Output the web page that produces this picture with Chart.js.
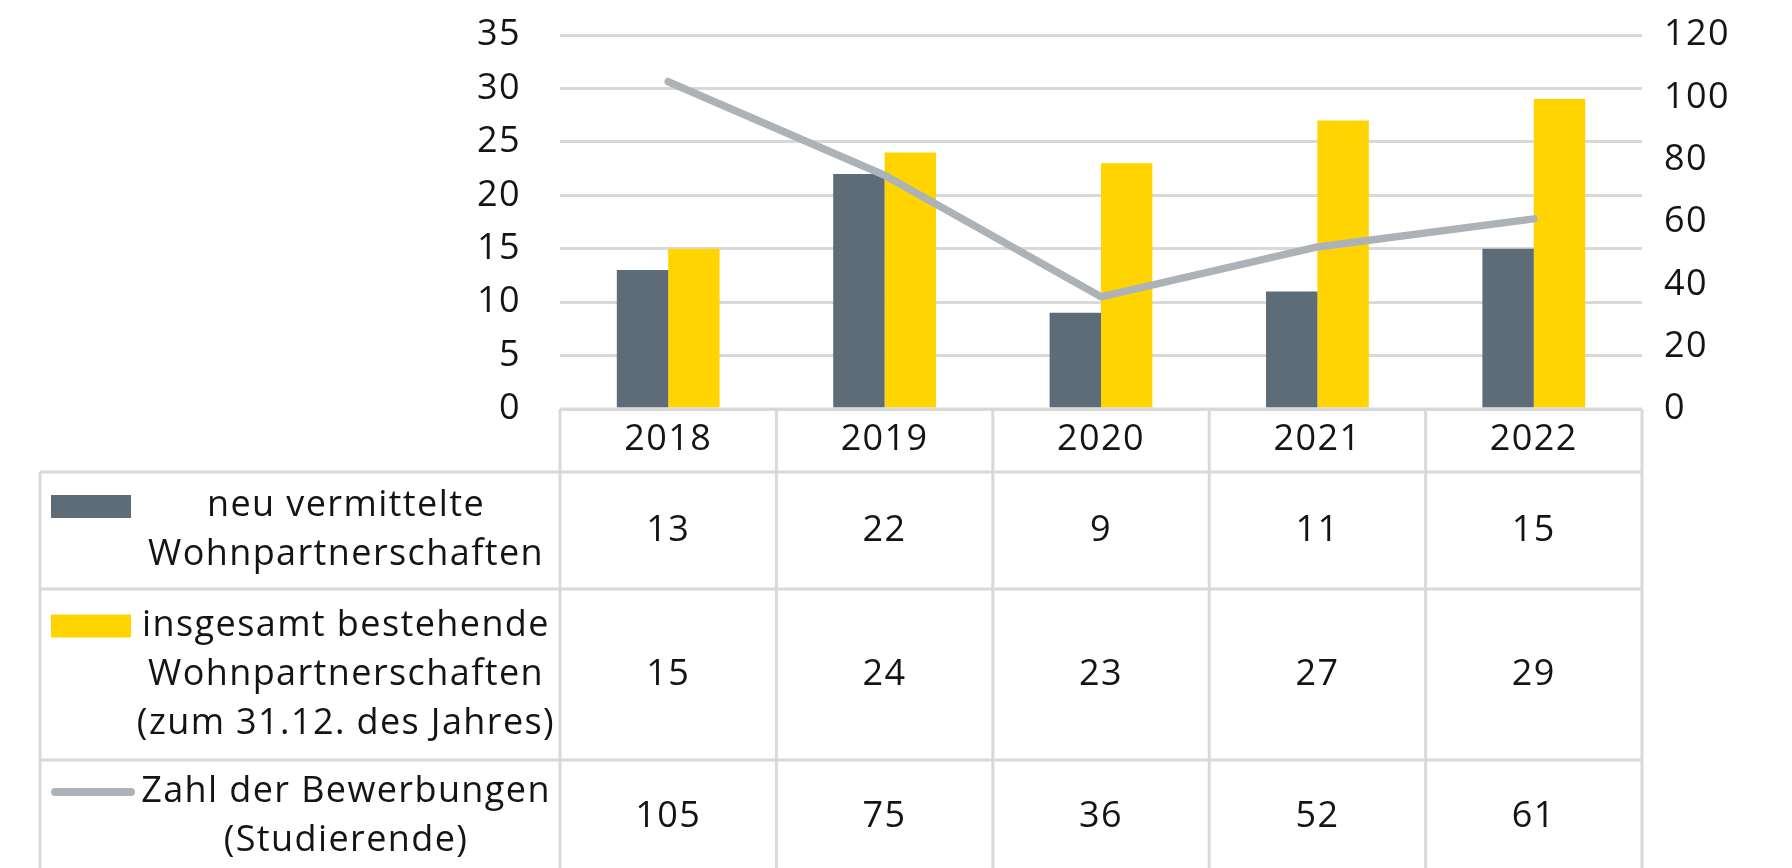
<!DOCTYPE html>
<html>
<head>
<meta charset="utf-8">
<script src="https://cdn.jsdelivr.net/npm/chart.js@4.4.1/dist/chart.umd.min.js"></script>
<style>
  html, body { margin: 0; padding: 0; background: #fff; }
  canvas { display: block; }
</style>
</head>
<body>
<canvas id="chart" width="1792" height="868"></canvas>
<script>
const years = ['2018', '2019', '2020', '2021', '2022'];
const neuVermittelt = [13, 22, 9, 11, 15];
const insgesamt = [15, 24, 23, 27, 29];
const bewerbungen = [105, 75, 36, 52, 61];
const seriesLabels = [
  ['neu vermittelte', 'Wohnpartnerschaften'],
  ['insgesamt bestehende', 'Wohnpartnerschaften', '(zum 31.12. des Jahres)'],
  ['Zahl der Bewerbungen', '(Studierende)']
];

const FONT = '"Open Sans", sans-serif';
const FONT_SIZE = 36;
const SPACING = '1.4px';
const TEXT = '#141414';
const GRID = '#d9d9d9';
const DARK = '#5d6c76';
const YELLOW = '#ffd400';
const LINE = '#abb3b8';

// letter spacing for all canvas text (tick labels too)
const spacingPlugin = {
  id: 'spacing',
  beforeDraw(chart) { chart.ctx.letterSpacing = SPACING; }
};

// draws the data table under the plot, columns follow the x scale
const tablePlugin = {
  id: 'dataTable',
  afterDraw(chart) {
    const ctx = chart.ctx;
    const area = chart.chartArea;
    const xs = chart.scales.x;
    const n = years.length;
    const colW = (area.right - area.left) / n;
    const tableLeft = 40;
    const yearBottom = area.bottom + 63;
    const rowH = [117, 171, 113];
    const rowTops = [yearBottom, yearBottom + rowH[0], yearBottom + rowH[0] + rowH[1]];
    const lineGap = 49;

    function line(x1, y1, x2, y2) {
      ctx.beginPath();
      ctx.moveTo(x1, y1);
      ctx.lineTo(x2, y2);
      ctx.stroke();
    }

    ctx.save();
    ctx.letterSpacing = SPACING;
    ctx.strokeStyle = GRID;
    ctx.lineWidth = 3;
    line(area.left, area.bottom, area.right, area.bottom);
    rowTops.forEach(t => line(tableLeft, t, area.right, t));
    for (let i = 0; i <= n; i++) {
      line(area.left + i * colW, area.bottom, area.left + i * colW, chart.height);
    }
    line(tableLeft, yearBottom, tableLeft, chart.height);

    ctx.fillStyle = TEXT;
    ctx.font = FONT_SIZE + 'px ' + FONT;
    ctx.textAlign = 'center';
    ctx.textBaseline = 'middle';
    years.forEach((y, i) => ctx.fillText(y, xs.getPixelForValue(i), area.bottom + 31));

    const rows = [neuVermittelt, insgesamt, bewerbungen];
    const labelCenter = 346;
    rows.forEach((vals, r) => {
      const mid = rowTops[r] + rowH[r] / 2;
      vals.forEach((v, i) => ctx.fillText(String(v), xs.getPixelForValue(i), mid));
      const lines = seriesLabels[r];
      const first = mid - (lines.length - 1) * lineGap / 2;
      lines.forEach((t, k) => ctx.fillText(t, labelCenter, first + k * lineGap));

      // legend swatches
      if (r < 2) {
        ctx.fillStyle = r === 0 ? DARK : YELLOW;
        ctx.fillRect(51, first - 11, 80, 23);
        ctx.fillStyle = TEXT;
      } else {
        ctx.strokeStyle = LINE;
        ctx.lineWidth = 8;
        ctx.lineCap = 'round';
        line(55, first, 131, first);
      }
    });
    ctx.restore();
  }
};

new Chart(document.getElementById('chart'), {
  type: 'bar',
  data: {
    labels: years,
    datasets: [
      {
        type: 'line',
        label: 'Zahl der Bewerbungen (Studierende)',
        data: bewerbungen,
        yAxisID: 'y1',
        borderColor: LINE,
        borderWidth: 7.5,
        borderCapStyle: 'round',
        borderJoinStyle: 'round',
        pointRadius: 0,
        tension: 0,
        order: 0
      },
      {
        label: 'neu vermittelte Wohnpartnerschaften',
        data: neuVermittelt,
        backgroundColor: DARK,
        yAxisID: 'y',
        categoryPercentage: 0.475,
        barPercentage: 1.0,
        order: 1
      },
      {
        label: 'insgesamt bestehende Wohnpartnerschaften (zum 31.12. des Jahres)',
        data: insgesamt,
        backgroundColor: YELLOW,
        yAxisID: 'y',
        categoryPercentage: 0.475,
        barPercentage: 1.0,
        order: 2
      }
    ]
  },
  options: {
    responsive: false,
    animation: false,
    layout: { padding: { top: 35, left: 0, right: 0, bottom: 0 } },
    plugins: {
      legend: { display: false },
      tooltip: { enabled: false }
    },
    scales: {
      x: {
        grid: { display: false },
        border: { display: false },
        ticks: { display: false },
        afterFit: s => { s.height = 459; }
      },
      y: {
        position: 'left',
        min: 0,
        max: 35,
        ticks: { stepSize: 5, padding: 0, color: TEXT, font: { family: FONT, size: FONT_SIZE } },
        grid: { color: GRID, lineWidth: 3, drawTicks: true, tickLength: 39, tickColor: 'rgba(0,0,0,0)' },
        border: { display: false },
        afterFit: s => { s.width = 560; }
      },
      y1: {
        position: 'right',
        min: 0,
        max: 120,
        ticks: { stepSize: 20, padding: 0, color: TEXT, font: { family: FONT, size: FONT_SIZE } },
        grid: { display: false, drawTicks: true, tickLength: 22 },
        border: { display: false },
        afterFit: s => { s.width = 150; }
      }
    }
  },
  plugins: [spacingPlugin, tablePlugin]
});
</script>
</body>
</html>
